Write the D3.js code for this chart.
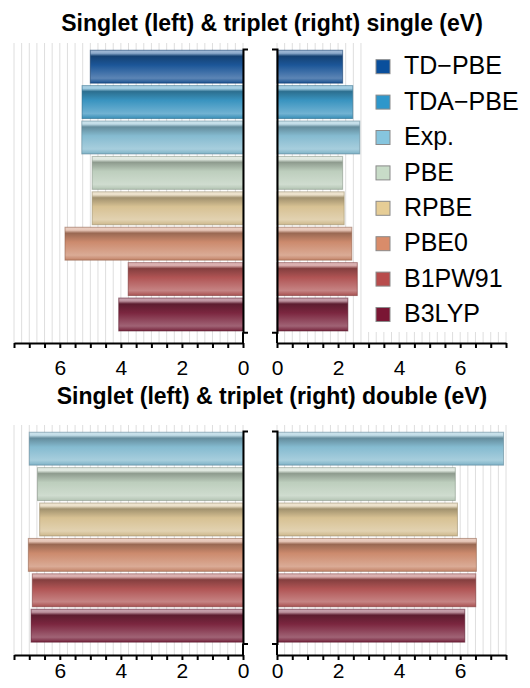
<!DOCTYPE html>
<html>
<head>
<meta charset="utf-8">
<script src="https://cdn.jsdelivr.net/npm/d3@7/dist/d3.min.js"></script>
<style>
  body { margin: 0; background: #fff; }
  svg { display: block; font-family: "Liberation Sans", Arial, sans-serif; }
</style>
</head>
<body>
<svg id="chart" width="530" height="688"></svg>
<script>
// methods and their legend colours
const methods = ["TD\u2212PBE", "TDA\u2212PBE", "Exp.", "PBE", "RPBE", "PBE0", "B1PW91", "B3LYP"];
const methodColors = ["#0a4f9c", "#2e97cb", "#86c5de", "#c8dcc8", "#e6cd96", "#d98c6a", "#b84c4c", "#7a1634"];

// single excitation (eV)
const singleMethods = ["TD\u2212PBE", "TDA\u2212PBE", "Exp.", "PBE", "RPBE", "PBE0", "B1PW91", "B3LYP"];
const singleSinglet = [5.00, 5.27, 5.28, 4.94, 4.94, 5.83, 3.76, 4.07];
const singleTriplet = [2.15, 2.48, 2.71, 2.15, 2.20, 2.45, 2.63, 2.32];

// double excitation (eV)
const doubleMethods = ["Exp.", "PBE", "RPBE", "PBE0", "B1PW91", "B3LYP"];
const doubleSinglet = [7.00, 6.73, 6.66, 7.03, 6.90, 6.94];
const doubleTriplet = [7.42, 5.84, 5.91, 6.53, 6.51, 6.15];

const xTicks = [0, 2, 4, 6];

const svg = d3.select("#chart");
const color = d3.scaleOrdinal(methods, methodColors);

// glossy gradients, one per method
const defs = svg.append("defs");
methods.forEach((m, i) => {
  const base = d3.interpolateRgb(methodColors[i], "#808080")(0.15);
  const mixW = t => d3.interpolateRgb(base, "#ffffff")(t);
  const mixK = t => d3.interpolateRgb(base, "#000000")(t);
  const g = defs.append("linearGradient").attr("id", "grad" + i)
    .attr("x1", 0).attr("y1", 0).attr("x2", 0).attr("y2", 1);
  [[0, mixW(0.6)], [0.09, mixW(0.5)], [0.18, mixK(0.25)], [0.45, base],
   [0.85, mixW(0.28)], [1, mixK(0.05)]].forEach(([o, c]) =>
    g.append("stop").attr("offset", o).attr("stop-color", c));
});

const xL = d3.scaleLinear().domain([0, 7.5]).range([243, 14]);
const xR = d3.scaleLinear().domain([0, 7.5]).range([277, 506]);
const gridVals = d3.range(0, 7.51, 0.25);
const tickVals = d3.range(0, 7.51, 0.5);

function panel(title, titleY, cats, left, right, barTop, gridTop, axisY, labelPad) {
  const pitch = 35.4;
  const y = d3.scaleBand().domain(cats).range([barTop, barTop + pitch * cats.length])
    .paddingInner(0.07).paddingOuter(0.035);
  const yEnd = barTop + pitch * cats.length;

  svg.append("text").attr("x", 272).attr("y", titleY).attr("text-anchor", "middle")
    .attr("font-size", 23).attr("font-weight", "bold").text(title);

  [[xL, left], [xR, right]].forEach(([x, vals]) => {
    svg.append("g").selectAll("line").data(gridVals).join("line")
      .attr("x1", d => x(d)).attr("x2", d => x(d))
      .attr("y1", gridTop).attr("y2", axisY)
      .attr("stroke", "#dedede").attr("stroke-width", 1);

    svg.append("g").selectAll("rect").data(cats).join("rect")
      .attr("x", (d, i) => Math.min(x(0), x(vals[i])))
      .attr("width", (d, i) => Math.abs(x(vals[i]) - x(0)))
      .attr("y", d => y(d)).attr("height", y.bandwidth())
      .attr("fill", d => `url(#grad${methods.indexOf(d)})`)
      .attr("stroke", d => d3.color(color(d)).darker(1.2)).attr("stroke-opacity", 0.55)
      .attr("stroke-width", 1);

    const ax = svg.append("g").attr("transform", `translate(0,${axisY})`)
      .call(d3.axisBottom(x).tickValues(tickVals).tickSize(5).tickSizeOuter(0).tickPadding(labelPad)
        .tickFormat(d => xTicks.includes(d) ? d3.format("d")(d) : ""));
    ax.select(".domain").attr("stroke-width", 2);
    ax.selectAll(".tick line").attr("stroke-width", 2);
    ax.selectAll("text").attr("font-size", 21).attr("font-family", "Liberation Sans, Arial, sans-serif");

    const yAxis = (x === xL ? d3.axisRight : d3.axisLeft)(d3.scaleLinear().range([barTop, yEnd]))
      .tickValues([]).tickSizeOuter(5);
    const ya = svg.append("g").attr("transform", `translate(${x(0)},0)`).call(yAxis);
    ya.select(".domain").attr("stroke-width", 2);
    svg.append("line").attr("x1", x(0)).attr("x2", x(0)).attr("y1", yEnd)
      .attr("y2", axisY).attr("stroke", "#000").attr("stroke-width", 2);
  });
  return y;
}

const yS = panel("Singlet (left) & triplet (right) single (eV)", 31,
  singleMethods, singleSinglet, singleTriplet, 49, 43, 343, 12);
panel("Singlet (left) & triplet (right) double (eV)", 404,
  doubleMethods, doubleSinglet, doubleTriplet, 431, 425, 655, 3);

// legend
const leg = svg.append("g");
leg.append("rect").attr("x", 362).attr("y", 40).attr("width", 168).attr("height", 292)
  .attr("fill", "#fff");
leg.selectAll("rect.sw").data(methods).join("rect").attr("class", "sw")
  .attr("x", 376).attr("y", d => yS(d) + yS.bandwidth() / 2 - 7)
  .attr("width", 14).attr("height", 14)
  .attr("fill", d => color(d)).attr("stroke", "#8a8a8a").attr("stroke-width", 1);
leg.selectAll("text").data(methods).join("text")
  .attr("x", 404).attr("y", d => yS(d) + yS.bandwidth() / 2 - 1)
  .attr("dy", "0.35em").attr("font-size", 25).text(d => d);
</script>
</body>
</html>
